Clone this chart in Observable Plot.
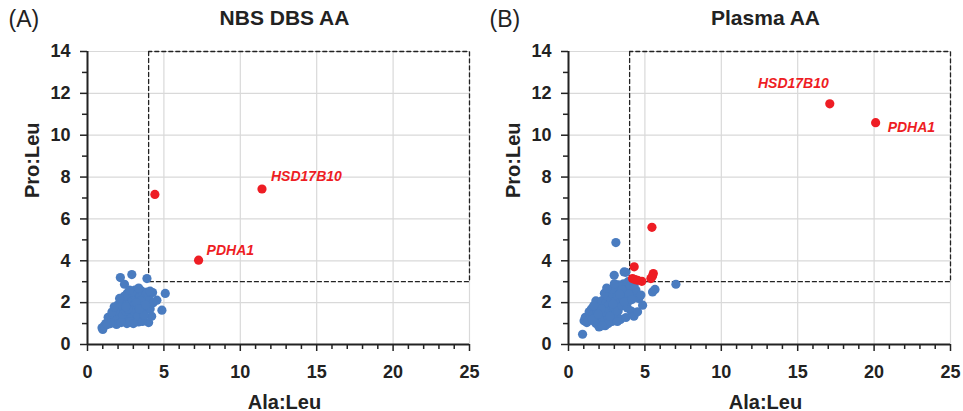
<!DOCTYPE html>
<html>
<head>
<meta charset="utf-8">
<script src="https://cdn.jsdelivr.net/npm/d3@7"></script>
<script src="https://cdn.jsdelivr.net/npm/@observablehq/plot@0.6"></script>
<style>
  html, body { margin: 0; padding: 0; background: #fff; }
  #chart { display: flex; width: 963px; height: 411px; }
  svg { font-family: "Liberation Sans", Arial, sans-serif; }
</style>
</head>
<body>
<div id="chart"></div>
<script>
// ---- data ----
const xTicks = [0, 5, 10, 15, 20, 25];
const xMinorTicks = [1,2,3,4,6,7,8,9,11,12,13,14,16,17,18,19,21,22,23,24];
const yTicks = [0, 2, 4, 6, 8, 10, 12, 14];
const yMinorTicks = [1, 3, 5, 7, 9, 11, 13];
const cutoffX = 4;
const cutoffY = 3;
const panelLabels = ["(A)", "(B)"];
const panelTitles = ["NBS DBS AA", "Plasma AA"];
const xLabel = "Ala:Leu";
const yLabel = "Pro:Leu";

// Panel A (NBS DBS) controls: [Ala:Leu, Pro:Leu]
const nbsControls = [
  [1.0,0.72],[0.95,0.8],[1.1,0.9],[1.2,1.0],[1.35,1.3],[1.4,1.15],[1.5,1.35],[1.6,1.2],
  [1.7,1.4],[1.8,1.1],[1.9,0.96],[1.95,1.5],[2.0,1.3],[2.05,1.7],[2.1,1.45],[2.15,3.2],
  [2.2,1.6],[2.25,1.9],[2.3,1.25],[2.35,1.75],[2.4,2.0],[2.42,2.88],[2.45,1.5],[2.5,2.1],
  [2.55,1.35],[2.58,1.0],[2.6,1.85],[2.65,2.2],[2.7,1.6],[2.75,1.95],[2.8,2.3],[2.85,1.4],
  [2.9,3.34],[2.9,1.75],[2.95,2.1],[3.0,1.55],[3.0,2.4],[3.05,1.9],[3.1,1.2],[3.15,2.2],
  [3.2,1.65],[3.25,2.5],[3.3,1.85],[3.34,1.08],[3.35,2.05],[3.4,1.45],[3.45,2.3],[3.5,1.75],
  [3.55,2.55],[3.6,1.95],[3.65,1.3],[3.7,2.15],[3.75,1.6],[3.8,2.35],[3.89,3.15],[3.9,1.85],
  [4.0,1.05],[4.0,2.2],[4.1,1.7],[4.26,2.48],[4.3,2.0],[4.54,2.12],[4.87,1.64],[5.09,2.44],
  [2.2,2.1],[2.6,2.45],[2.7,1.25],[3.1,2.6],[3.3,1.35],[3.5,2.1],[2.8,1.1],[2.3,1.45],
  [2.0,1.9],[1.8,1.6],[1.6,1.55],[3.9,2.5],[4.2,1.35],[3.6,1.1],[2.9,2.5],[2.5,1.6],
  [2.2,1.05],[3.0,1.0],[4.1,2.55],[3.7,1.4],[2.4,2.3],[3.2,2.0],[2.65,1.7],[1.5,1.0],
  [1.3,0.95],[2.1,2.2],[2.5,1.8],[3.4,1.7],[3.8,1.9],[2.75,2.6],[3.35,2.7],[1.75,1.8]
];
// Panel A patients
const nbsPatients = [[4.41,7.17],[11.42,7.43],[7.27,4.03]];
const nbsPatientNames = ["", "HSD17B10", "PDHA1"];

// Panel B (Plasma) controls
const plasmaControls = [
  [0.92,0.49],[1.02,1.13],[1.1,1.3],[1.2,1.05],[1.35,1.56],[1.4,1.25],[1.5,1.7],[1.6,1.4],
  [1.7,1.1],[1.79,2.08],[1.85,1.6],[1.9,1.3],[2.0,0.84],[2.05,1.85],[2.1,1.5],[2.2,2.1],
  [2.25,1.2],[2.3,1.75],[2.4,0.9],[2.45,2.0],[2.5,1.55],[2.55,2.3],[2.6,1.3],[2.65,1.9],
  [2.7,2.5],[2.75,1.65],[2.8,2.15],[2.85,1.1],[2.9,2.4],[2.95,1.8],[2.99,3.31],[3.0,2.05],
  [3.05,1.45],[3.1,2.6],[3.1,4.87],[3.15,1.95],[3.2,2.3],[3.25,1.6],[3.3,2.75],[3.35,2.0],
  [3.4,1.2],[3.45,2.5],[3.5,1.85],[3.55,2.2],[3.6,2.9],[3.64,3.47],[3.7,2.35],[3.76,1.29],
  [3.8,2.65],[3.85,1.75],[3.9,3.0],[4.0,2.1],[4.05,2.8],[4.1,1.6],[4.2,2.45],[4.28,1.35],
  [4.41,2.6],[4.52,1.56],[4.6,2.2],[4.74,2.36],[4.85,1.88],[5.5,2.51],[5.66,2.63],[7.03,2.88],
  [3.75,3.45],[2.4,1.55],[1.8,1.0],[2.6,1.0],[2.2,0.9],[2.35,2.45],[2.85,2.65],[3.25,2.85],
  [3.5,2.6],[3.95,2.4],[4.3,2.85],[2.15,1.7],[1.65,1.85],[1.3,1.15],[2.5,2.7],[3.0,2.9],
  [2.7,1.35],[3.2,1.1],[3.65,2.05],[4.15,2.15],[1.55,1.2],[2.9,1.95],[3.35,2.4],[1.95,1.45]
];
// Panel B patients
const plasmaPatients = [
  [4.3,3.71],[4.19,3.15],[4.52,3.07],[4.8,3.02],[5.39,3.15],[5.55,3.39],[5.5,3.27],
  [4.35,3.1],[5.46,5.6],[17.1,11.5],[20.1,10.6]
];
const plasmaPatientNames = ["","","","","","","","","","HSD17B10","PDHA1"];

// ---- styling ----
const BLUE = "#4a7cc0";
const RED = "#ee1d24";
const FONT = "Liberation Sans, Arial, sans-serif";

function panel(i, controls, patients, names, width, mRight, labelOffsets) {
  const ctrl = controls.map(([x, y]) => ({x, y}));
  const pts = patients.map(([x, y], k) => ({x, y, name: names[k]}));
  const labeled = pts.filter(d => d.name);
  return Plot.plot({
    width, height: 411,
    marginLeft: 87, marginRight: mRight, marginTop: 51, marginBottom: 67,
    style: {fontFamily: FONT, background: "white", overflow: "visible"},
    x: {domain: [0, 25], axis: null, label: null},
    y: {domain: [0, 14], axis: null, label: null},
    marks: [
      Plot.gridX(xTicks, {stroke: "#d9d9d9", strokeOpacity: 1, strokeWidth: 1.2}),
      Plot.gridY(yTicks, {stroke: "#d9d9d9", strokeOpacity: 1, strokeWidth: 1.2}),
      // cutoff box
      Plot.line([[cutoffX, 14], [cutoffX, cutoffY], [25, cutoffY], [25, 14], [cutoffX, 14]],
        {stroke: "#222", strokeWidth: 1.3, strokeDasharray: "4,3"}),
      Plot.dot(ctrl, {x: "x", y: "y", r: 4.6, fill: BLUE}),
      Plot.dot(pts, {x: "x", y: "y", r: 4.6, fill: RED}),
      ...labeled.map((d, k) => Plot.text([d], {
        x: "x", y: "y", text: "name", fill: RED, fontSize: 14, fontWeight: "bold",
        fontStyle: "italic", textAnchor: labelOffsets[k].anchor,
        dx: labelOffsets[k].dx, dy: labelOffsets[k].dy
      })),
      // axes
      Plot.axisX({ticks: xMinorTicks, tickSize: 5, tickFormat: () => "", stroke: "#222", strokeWidth: 1.5, label: null}),
      Plot.axisX({ticks: xTicks, tickSize: 7, tickPadding: 14, fontSize: 18, fontWeight: "bold",
        fill: "#222", stroke: "#222", strokeWidth: 1.5, label: null}),
      Plot.axisY({ticks: yMinorTicks, tickSize: 5, tickFormat: () => "", stroke: "#222", strokeWidth: 1.5, label: null}),
      Plot.axisY({ticks: yTicks, tickSize: 7, tickPadding: 10, fontSize: 18, fontWeight: "bold",
        fill: "#222", stroke: "#222", strokeWidth: 1.5, label: null}),
      Plot.ruleY([0], {x1: 0, x2: 25, stroke: "#222", strokeWidth: 2}),
      Plot.ruleX([0], {y1: 0, y2: 14, stroke: "#222", strokeWidth: 2}),
      // titles & labels
      Plot.text([panelLabels[i]], {frameAnchor: "top-left", text: d => d, dx: -79, dy: -41,
        fontSize: 23, fill: "#222"}),
      Plot.text([panelTitles[i]], {frameAnchor: "top", text: d => d, dx: 6, dy: -41,
        fontSize: 21, fontWeight: "bold", fill: "#222"}),
      Plot.text([xLabel], {frameAnchor: "bottom", text: d => d, dx: 6, dy: 64,
        fontSize: 20, fontWeight: "bold", fill: "#222"}),
      Plot.text([yLabel], {frameAnchor: "left", text: d => d, dx: -55, rotate: -90,
        fontSize: 20, fontWeight: "bold", fill: "#222"})
    ]
  });
}

const chart = document.getElementById("chart");
chart.append(panel(0, nbsControls, nbsPatients, nbsPatientNames, 481, 12, [
  {anchor: "start", dx: 9, dy: -12},
  {anchor: "start", dx: 8, dy: -10}
]));
chart.append(panel(1, plasmaControls, plasmaPatients, plasmaPatientNames, 482, 13, [
  {anchor: "end", dx: -1, dy: -20},
  {anchor: "start", dx: 12, dy: 5}
]));
</script>
</body>
</html>
